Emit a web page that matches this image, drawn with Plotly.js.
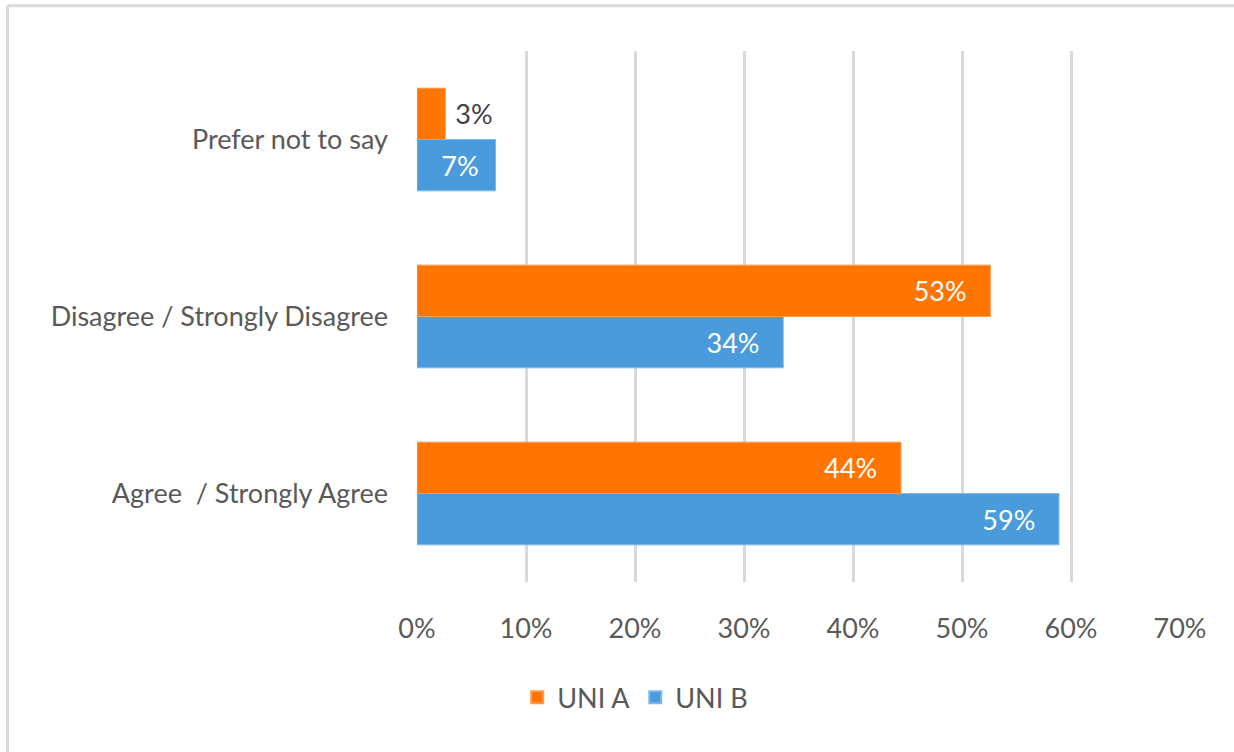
<!DOCTYPE html>
<html>
<head>
<meta charset="utf-8">
<script src="https://cdn.plot.ly/plotly-3.0.1.min.js"></script>
<style>
  html, body { margin: 0; padding: 0; background: #ffffff; }
  #chart { width: 1234px; height: 752px; }
</style>
</head>
<body>
<div id="chart"></div>
<script>
const categories = ["Agree\u00a0 / Strongly Agree", "Disagree / Strongly Disagree", "Prefer not to say"];
const uniA = [44.4, 52.6, 2.6];
const uniB = [58.9, 33.6, 7.2];
const seriesNames = ["UNI A", "UNI B"];
const tickVals = [0, 10, 20, 30, 40, 50, 60, 70];
const tickText = ["0%", "10%", "20%", "30%", "40%", "50%", "60%", "70%"];

const FONT = "Lato, 'Open Sans', sans-serif";
const FS = 27;
const ORANGE = "#FF7500";
const BLUE = "#4A9BDC";

function labels(vals, positions, pads) {
  return vals.map((v, i) => positions[i] === 'outside'
    ? '\u00a0' + Math.round(v) + '%'
    : Math.round(v) + '%' + '\u00a0'.repeat(pads[i]));
}
const posA = ['inside', 'inside', 'outside'];
const posB = ['inside', 'inside', 'inside'];

const traceB = {
  type: 'bar', orientation: 'h', name: seriesNames[1],
  y: categories, x: uniB,
  marker: { color: BLUE, line: { color: '#7db8e8', width: 1 } },
  text: labels(uniB, posB, [3, 3, 2]), textposition: posB,
  insidetextanchor: 'end',
  textfont: { family: FONT, size: FS, color: '#ffffff' },
  constraintext: 'none', cliponaxis: false, hoverinfo: 'x+name'
};

const traceA = {
  type: 'bar', orientation: 'h', name: seriesNames[0],
  y: categories, x: uniA,
  marker: { color: ORANGE, line: { color: '#ff9a4d', width: 1 } },
  text: labels(uniA, posA, [3, 3, 0]), textposition: posA,
  insidetextanchor: 'end',
  insidetextfont: { family: FONT, size: FS, color: '#ffffff' },
  outsidetextfont: { family: FONT, size: FS, color: '#404040' },
  constraintext: 'none', cliponaxis: false, hoverinfo: 'x+name'
};

const layout = {
  width: 1234, height: 752,
  margin: { l: 417, r: 54, t: 51, b: 170 },
  paper_bgcolor: '#ffffff', plot_bgcolor: '#ffffff',
  barmode: 'group', bargap: 0.42, bargroupgap: 0,
  font: { family: FONT, size: FS, color: '#595959' },
  xaxis: {
    range: [0, 70], tickvals: tickVals, ticktext: tickText,
    showgrid: true, gridcolor: '#d9d9d9', gridwidth: 3,
    zeroline: false, showline: false, ticks: '',
    ticklabelstandoff: 28,
    tickfont: { family: FONT, size: FS, color: '#595959' },
    fixedrange: true
  },
  yaxis: {
    type: 'category', categoryorder: 'array', categoryarray: categories,
    showgrid: false, zeroline: false, showline: false, ticks: '',
    ticklabelstandoff: 28,
    tickfont: { family: FONT, size: FS, color: '#595959' },
    fixedrange: true
  },
  showlegend: true,
  legend: {
    orientation: 'h', traceorder: 'reversed',
    x: 0.286, xanchor: 'center', y: -0.218, yanchor: 'middle',
    font: { family: FONT, size: FS, color: '#595959' },
    itemwidth: 30, itemsizing: 'constant'
  },
  shapes: [
    { type: 'line', xref: 'paper', yref: 'paper', x0: -0.5367, x1: -0.5367, y0: 1.085, y1: -0.33,
      line: { color: '#d9d9d9', width: 3 } },
    { type: 'line', xref: 'paper', yref: 'paper', x0: -0.5367, x1: 1.08, y0: 1.085, y1: 1.085,
      line: { color: '#d9d9d9', width: 3 } }
  ]
};

Plotly.newPlot('chart', [traceB, traceA], layout, { displayModeBar: false, staticPlot: true });
</script>
</body>
</html>
